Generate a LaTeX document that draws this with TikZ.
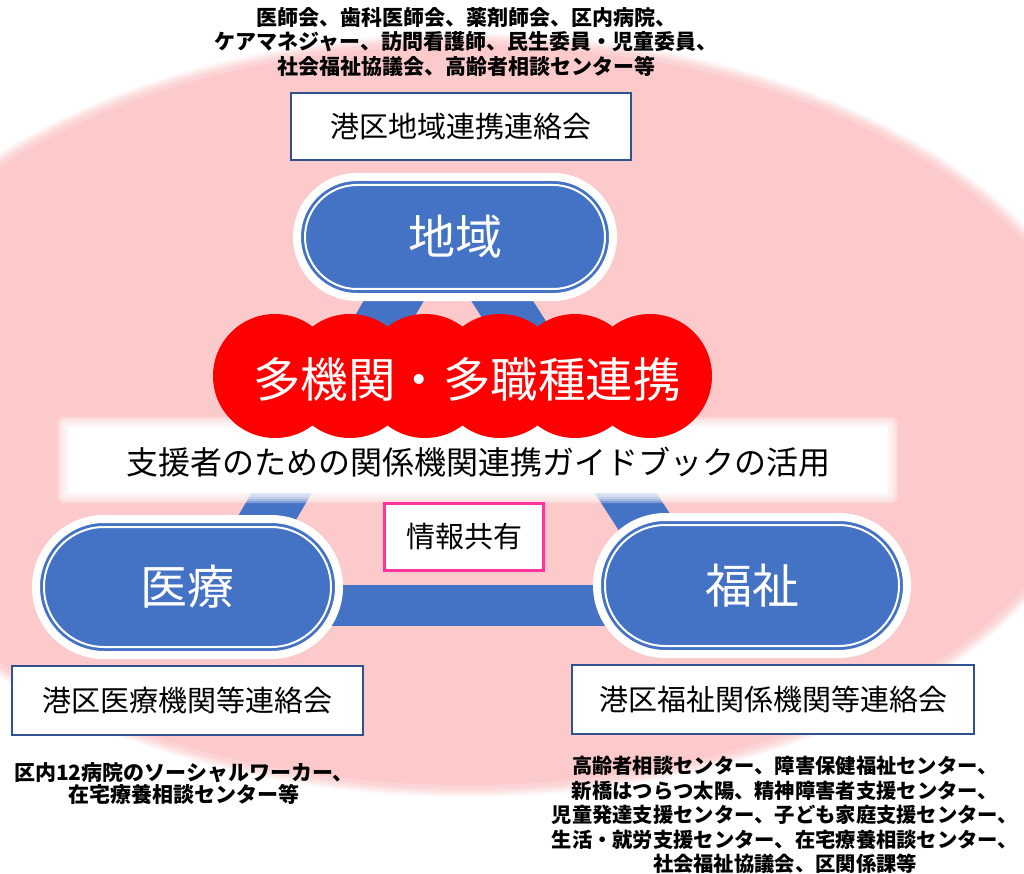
\documentclass[tikz,border=0pt]{standalone}
\usepackage{fontspec}
\setmainfont{Noto Sans CJK JP}
\usetikzlibrary{calc}
\definecolor{bgpink}{RGB}{252,202,203}
\definecolor{pblue}{RGB}{68,114,196}
\definecolor{bdblue}{RGB}{47,82,143}
\definecolor{magpink}{RGB}{255,51,153}
\definecolor{cloudred}{RGB}{255,0,0}
\tikzset{
  pill/.style={fill=pblue, draw=white, line width=8pt, rounded corners=#1, outer sep=0pt, inner sep=0pt, text=white, font=\fontsize{47}{52}\selectfont},
  pillline/.style={draw=white, line width=2pt, rounded corners=#1},
  bar/.style={draw=pblue, line width=#1},
  orgbox/.style={draw=bdblue, fill=white, line width=2pt, inner sep=0pt, outer sep=0pt, font=\fontsize{29}{32}\selectfont},
  memtext/.style={align=center, inner sep=0pt, font=\bfseries\fontsize{21}{#1}\selectfont},
}
\begin{document}
\begin{tikzpicture}[x=1pt, y=-1pt]
\useasboundingbox (0,0) rectangle (1024,874);
\clip (0,0) rectangle (1024,874);
\fill[white] (0,0) rectangle (1024,874);
% background ellipse with soft edge
\coordinate (ec) at (467,415);
\foreach \d/\o in {10/0.15,8/0.2,6/0.25,4/0.3,2/0.4}
  \fill[bgpink, opacity=\o] (ec) ellipse [x radius={632+\d}, y radius={372+\d}];
\fill[bgpink] (ec) ellipse [x radius=630, y radius=370];

% pill centres
\coordinate (pcA) at (455,237);
\coordinate (pcB) at (187.5,587);
\coordinate (pcC) at (752,585.5);

% triangle bars
\draw[bar=52pt] ($(pcA)+(-24,0)$) -- ($(pcB)+(37.5,3)$);
\draw[bar=52pt] ($(pcA)+(6,0)$) -- ($(pcC)+(-64,4.5)$);
\draw[bar=41pt] ($(pcB)+(0,18)$) -- ($(pcC)+(0,19.5)$);

% top members text and box
\node[memtext=24.5] (topmem) at (466,42) {医師会、歯科医師会、薬剤師会、区内病院、\\ケアマネジャー、訪問看護師、民生委員・児童委員、\\社会福祉協議会、高齢者相談センター等};
\node[orgbox, minimum width=340, minimum height=67] (chiikiren) at (461,126.5) {港区地域連携連絡会};

% pills
\node[pill=60pt, minimum width=316, minimum height=120] (chiiki) at (pcA) {地域};
\draw[pillline=52pt] ($(chiiki.south west)+(8,-8)$) rectangle ($(chiiki.north east)+(-8,8)$);
\node[pill=68pt, minimum width=303, minimum height=136] (iryo) at (pcB) {医療};
\draw[pillline=60pt] ($(iryo.south west)+(8,-8)$) rectangle ($(iryo.north east)+(-8,8)$);
\node[pill=68.5pt, minimum width=310, minimum height=137] (fukushi) at (pcC) {福祉};
\draw[pillline=60.5pt] ($(fukushi.south west)+(8,-8)$) rectangle ($(fukushi.north east)+(-8,8)$);

% guide box with soft edge
\coordinate (gb) at (477.5,460);
\foreach \d in {10,8,6,4,2}
  \fill[white, opacity=0.3, rounded corners=6pt] ($(gb)+(-410-\d,-33-\d)$) rectangle ($(gb)+(410+\d,33+\d)$);
\fill[white] ($(gb)+(-410,-33)$) rectangle ($(gb)+(410,33)$);
\node[inner sep=0pt, font=\fontsize{32}{36}\selectfont] (guide) at (478,462) {支援者のための関係機関連携ガイドブックの活用};

% red cloud
\foreach \cx in {275,350,425,500,575,650}
  \fill[cloudred] (\cx,376) circle [radius=62];
\node[text=white, inner sep=0pt, font=\fontsize{47.5}{52}\selectfont] (renkei) at (467,379) {多機関・多職種連携};

% information sharing
\node[draw=magpink, fill=white, line width=3pt, inner sep=0pt, minimum width=159, minimum height=67, font=\fontsize{29}{32}\selectfont] (share) at (464,537) {情報共有};

% bottom boxes
\node[orgbox, minimum width=351, minimum height=69] (iryoren) at (187.5,700.5) {港区医療機関等連絡会};
\node[orgbox, minimum width=402, minimum height=69] (fukuren) at (773,699.5) {港区福祉関係機関等連絡会};

% bottom member texts
\node[memtext=22] (iryomem) at (184,784) {区内12病院のソーシャルワーカー、\\在宅療養相談センター等};
\node[memtext=24.5, font=\bfseries\fontsize{20.3}{24.5}\selectfont] (fukumem) at (785,815) {高齢者相談センター、障害保健福祉センター、\\新橋はつらつ太陽、精神障害者支援センター、\\児童発達支援センター、子ども家庭支援センター、\\生活・就労支援センター、在宅療養相談センター、\\社会福祉協議会、区関係課等};
\end{tikzpicture}
\end{document}
